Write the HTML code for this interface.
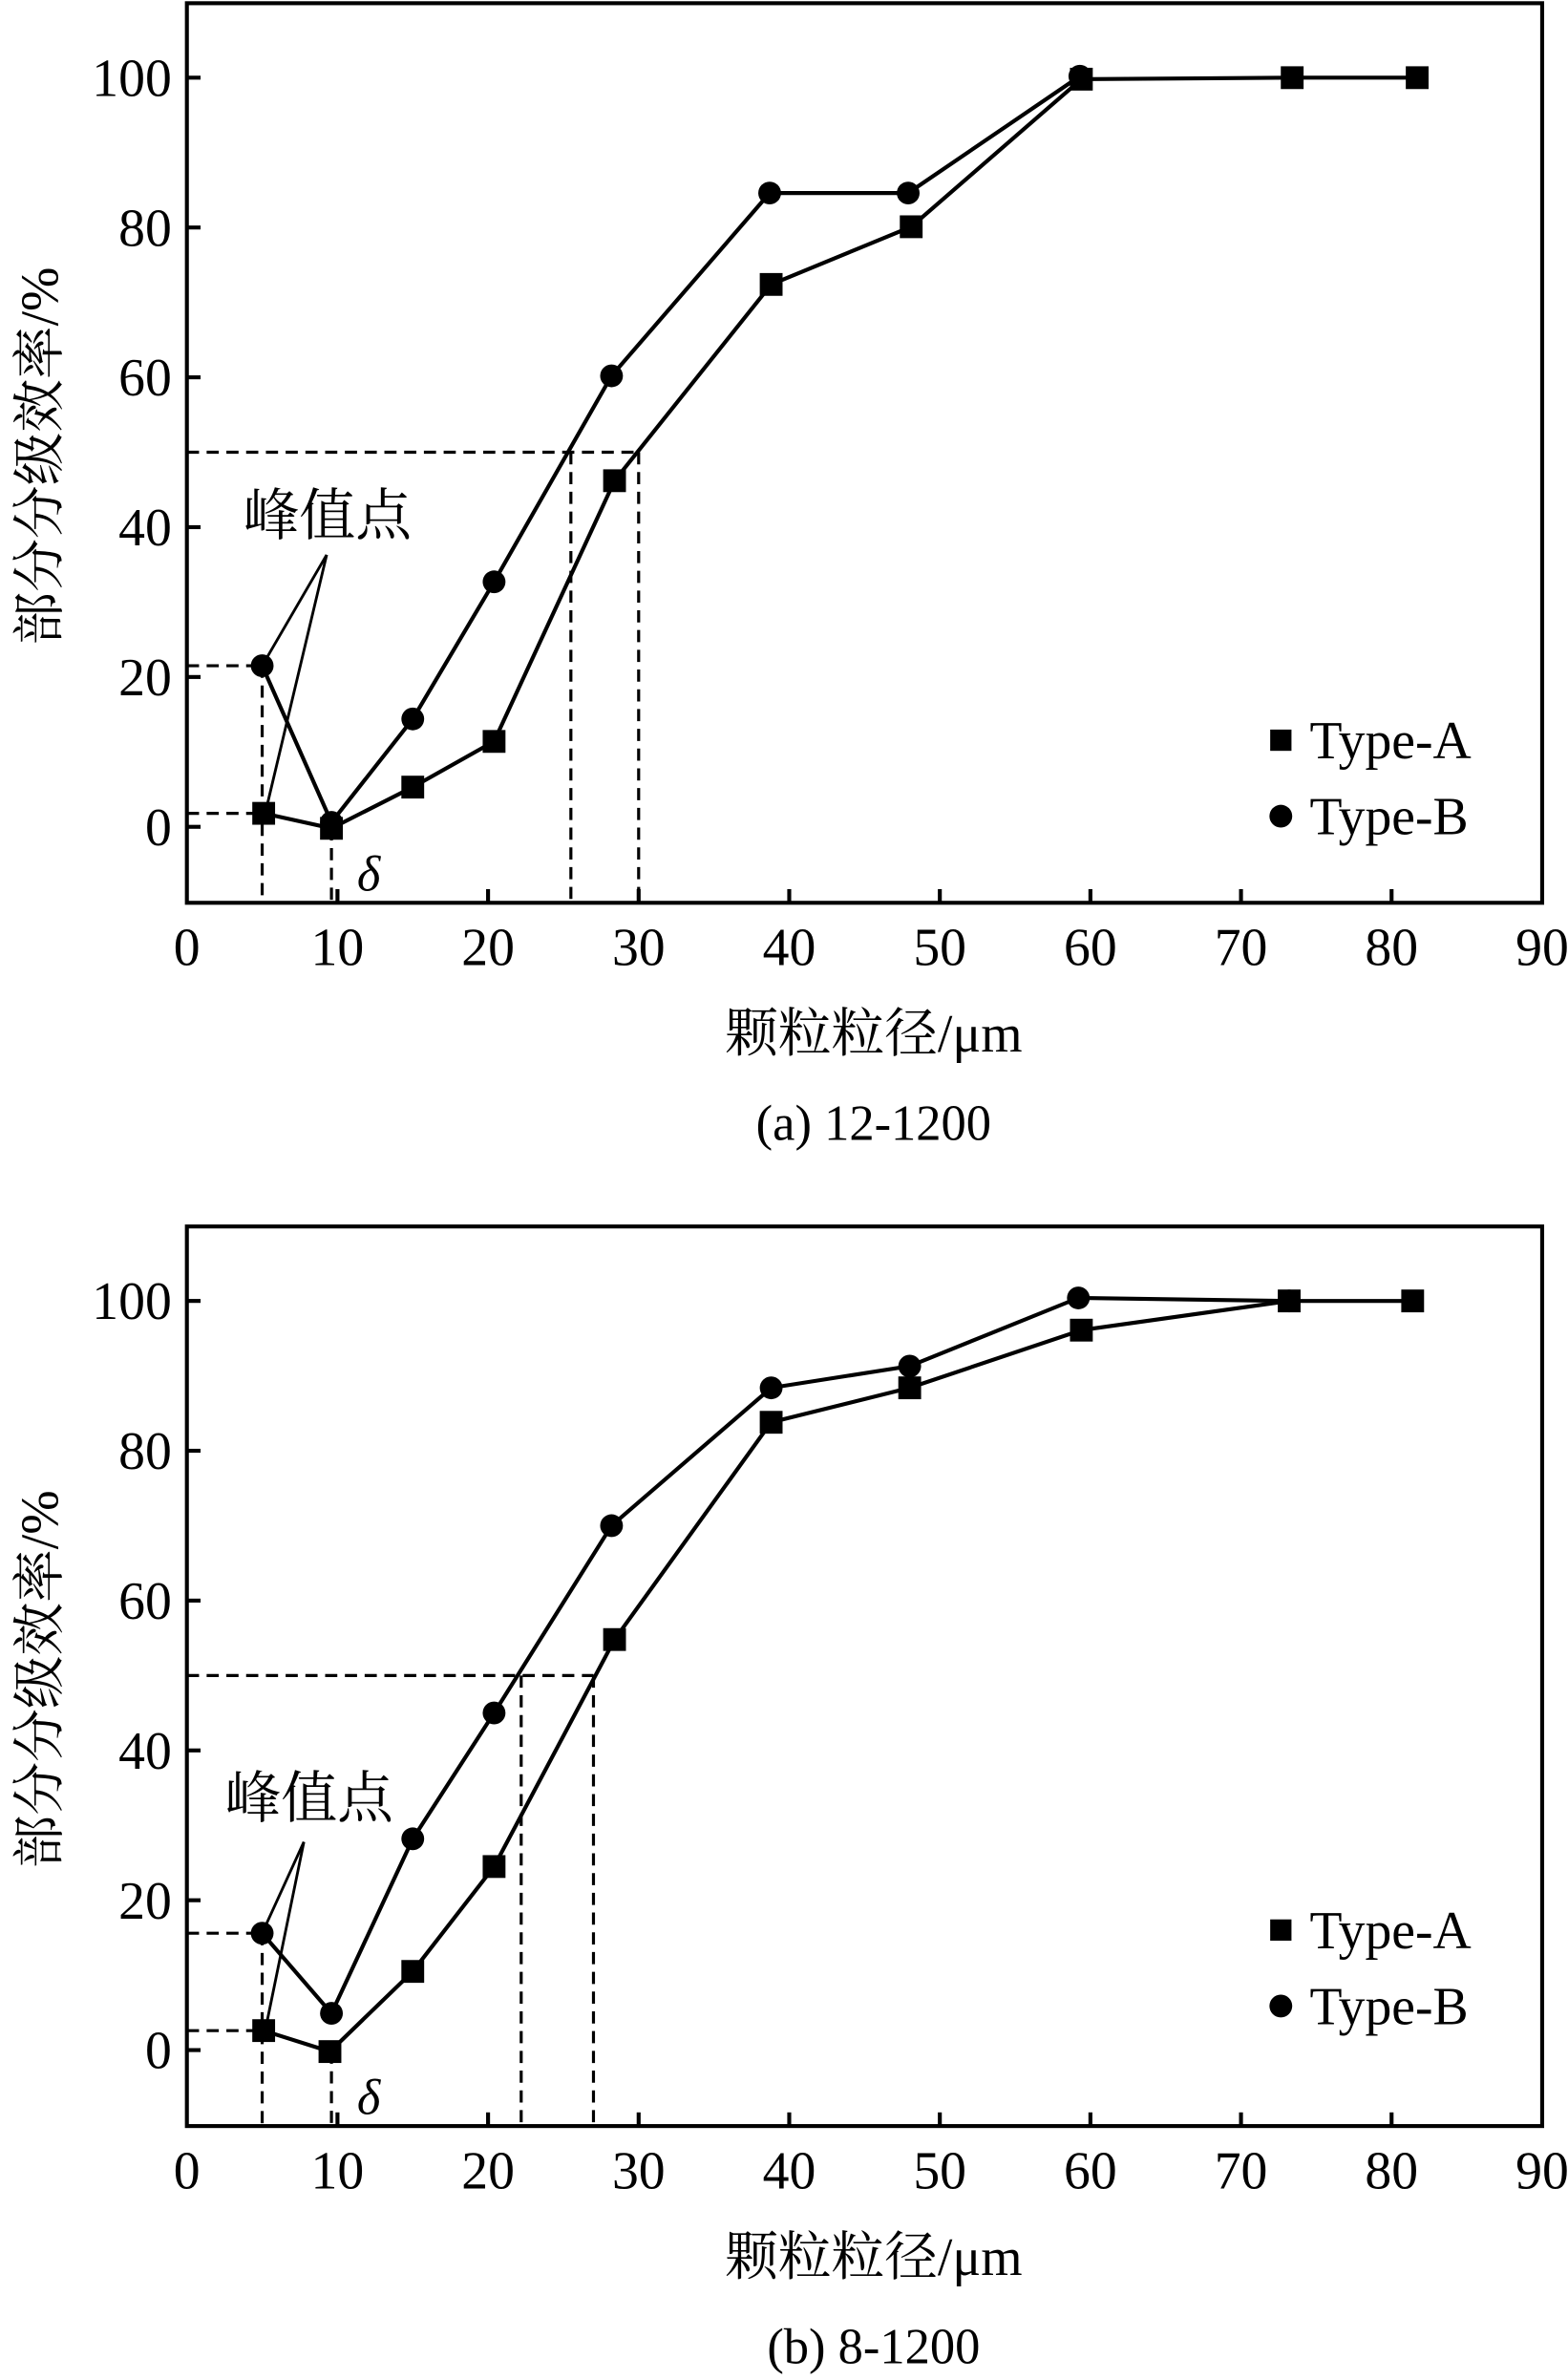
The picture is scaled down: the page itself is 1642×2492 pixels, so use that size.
<!DOCTYPE html>
<html><head><meta charset="utf-8"><style>
html,body{margin:0;padding:0;background:#fff;}
svg{display:block;}
text{font-family:"Liberation Serif","Noto Serif CJK SC","Noto Sans CJK SC",serif;fill:#000;}
</style></head>
<body>
<svg id="chart" xmlns="http://www.w3.org/2000/svg" width="1642" height="2492" viewBox="0 0 1032 1566"></svg>
<script>
const xTicks = [0,10,20,30,40,50,60,70,80,90];
const yTicks = [0,20,40,60,80,100];
// panel (a)
const aXA = [5.1,9.6,15.0,20.4,28.4,38.8,48.1,59.4,73.4,81.7];
const aYA = [1.8,-0.2,5.3,11.4,46.2,72.4,80.1,99.8,100,100];
const aXB = [5.0,9.6,15.0,20.4,28.2,38.7,47.9,59.3];
const aYB = [21.5,0.6,14.4,32.7,60.2,84.6,84.6,100.2];
const aD50 = [25.5,30.0];
const aPeak = [21.5,1.8];
// panel (b)
const bXA = [5.1,9.5,15.0,20.4,28.4,38.8,48.0,59.4,73.2,81.4];
const bYA = [2.6,-0.2,10.5,24.5,54.8,83.8,88.4,96.1,100,100];
const bXB = [5.0,9.6,15.0,20.4,28.2,38.8,48.0,59.2,73.2];
const bYB = [15.6,4.9,28.2,45.0,70.0,88.4,91.3,100.4,100];
const bD50 = [22.2,27.0];
const bPeak = [15.6,2.6];

const NS='http://www.w3.org/2000/svg';
const svg=document.getElementById('chart');
function mk(tag,attrs,parent){const e=document.createElementNS(NS,tag);for(const k in attrs)e.setAttribute(k,attrs[k]);(parent||svg).appendChild(e);return e;}

function panel(id,top,XA,YA,XB,YB,d50,peak,caption,annot,legY){
  const g=mk('g',{});
  
  
  const L=123,R=1015,T=top,B=top+592;
  const y0=top+542, ppy=4.93, ppx=(R-L)/90;
  const sx=v=>L+v*ppx, sy=v=>y0-v*ppy;
  const dash={stroke:'#000','stroke-width':2,'stroke-dasharray':'8,5',fill:'none'};
  const dg=mk('g',dash,g);
  
  
  mk('line',{x1:L,y1:sy(50),x2:sx(d50[1]),y2:sy(50)},dg);
  d50.forEach(v=>mk('line',{x1:sx(v),y1:sy(50),x2:sx(v),y2:B},dg));
  mk('line',{x1:L,y1:sy(peak[0]),x2:sx(XB[0]),y2:sy(peak[0])},dg);
  mk('line',{x1:L,y1:sy(peak[1]),x2:sx(XA[0]),y2:sy(peak[1])},dg);
  mk('line',{x1:sx(XB[0]),y1:sy(peak[0]),x2:sx(XB[0]),y2:B},dg);
  mk('line',{x1:sx(XB[1]),y1:sy(Math.min(YA[1],YB[1])),x2:sx(XB[1]),y2:B},dg);
  const fr=mk('rect',{x:L,y:T,width:R-L,height:B-T,fill:'none',stroke:'#000','stroke-width':2.6},g);
  
  
  yTicks.forEach(v=>{
    mk('line',{x1:L,y1:sy(v),x2:L+9,y2:sy(v),stroke:'#000','stroke-width':2.6},g);
    const t=mk('text',{x:L-10,y:sy(v)+12,'font-size':35,'text-anchor':'end'},g);
    t.textContent=v;
    
    
  });
  xTicks.forEach(v=>{
    if(v>0&&v<90) mk('line',{x1:sx(v),y1:B,x2:sx(v),y2:B-9,stroke:'#000','stroke-width':2.6},g);
    const t=mk('text',{x:sx(v),y:B+41,'font-size':35,'text-anchor':'middle'},g);
    t.textContent=v;
    
    
  });
  const la=mk('polyline',{points:XA.map((x,i)=>sx(x)+','+sy(YA[i])).join(' '),fill:'none',stroke:'#000','stroke-width':2.6},g);
  
  
  const lb=mk('polyline',{points:XB.map((x,i)=>sx(x)+','+sy(YB[i])).join(' '),fill:'none',stroke:'#000','stroke-width':2.6},g);
  
  
  XB.forEach((x,i)=>{
    const c=mk('circle',{cx:sx(x),cy:sy(YB[i]),r:7.5,fill:'#000'},g);
    
    
  });
  XA.forEach((x,i)=>{
    const r=mk('rect',{x:sx(x)-7.5,y:sy(YA[i])-7.5,width:15,height:15,fill:'#000'},g);
    
    
  });
  const at=mk('text',{x:annot[0],y:annot[1],'font-size':37},g);
  at.textContent='峰值点';
  
  
  mk('line',{x1:annot[2],y1:annot[3],x2:sx(XB[0]),y2:sy(YB[0]),stroke:'#000','stroke-width':1.8},g);
  mk('line',{x1:annot[2],y1:annot[3],x2:sx(XA[0])+1,y2:sy(YA[0]),stroke:'#000','stroke-width':1.8},g);
  const dl=mk('text',{x:235,y:top+584,'font-size':33,'font-style':'italic'},g);
  dl.textContent='δ';
  
  
  const lg=mk('g',{},g);
  
  
  mk('rect',{x:836,y:legY-7,width:14,height:14,fill:'#000'},lg);
  const ta=mk('text',{x:862,y:legY+12,'font-size':35},lg);ta.textContent='Type-A';
  
  
  mk('circle',{cx:843,cy:legY+50,r:7.5,fill:'#000'},lg);
  const tb=mk('text',{x:862,y:legY+62,'font-size':35},lg);tb.textContent='Type-B';
  
  
  const yt=mk('text',{x:0,y:0,'font-size':35,'text-anchor':'middle',transform:`translate(38,${top+298}) rotate(-90)`},g);
  yt.textContent='部分分级效率/%';
  
  
  const xt=mk('text',{x:575,y:B+98,'font-size':35,'text-anchor':'middle'},g);
  xt.textContent='颗粒粒径/μm';
  
  
  const cp=mk('text',{x:575,y:B+156,'font-size':33,'text-anchor':'middle'},g);
  cp.textContent=caption;
  
  
}
panel('a',2,aXA,aYA,aXB,aYB,aD50,aPeak,'(a) 12-1200',[160,352,215,365],487);
panel('b',807,bXA,bYA,bXB,bYB,bD50,bPeak,'(b) 8-1200',[148,1196,200,1212],1270);
</script>
</body></html>
